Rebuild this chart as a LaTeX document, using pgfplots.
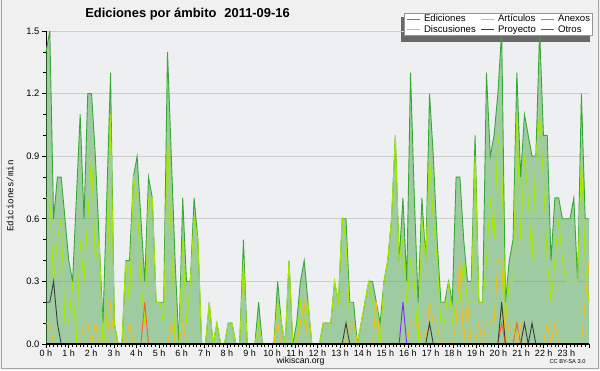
\documentclass[border=0pt]{standalone}
\usepackage{fontspec}
\setmainfont{Liberation Sans}
\newfontfamily\monofont{Liberation Mono}
\usepackage{pgfplots}
\pgfplotsset{compat=1.18}
\usepackage{pgfplotstable}

\definecolor{outerbg}{RGB}{240,240,240}
\definecolor{plotbg}{RGB}{237,239,241}
\definecolor{framegray}{RGB}{165,165,165}
\definecolor{gridc}{RGB}{205,205,205}
\definecolor{edfill}{RGB}{80,170,80}
\definecolor{edline}{RGB}{55,168,55}
\definecolor{artc}{RGB}{165,232,0}
\definecolor{disc}{RGB}{245,190,30}
\definecolor{anxc}{RGB}{255,95,30}
\definecolor{proc}{RGB}{60,60,60}
\definecolor{otrc}{RGB}{125,45,240}
\definecolor{legborder}{RGB}{150,150,150}
\definecolor{shadowc}{RGB}{105,105,105}

\pgfplotstableread{
i ed art dis anx pro otr
0 1.4 0.7 0.1 0 0.2 0
1 1.5 0.7 0.1 0 0.2 0
2 0.6 0.3 0 0 0.3 0
3 0.8 0.5 0 0 0.1 0
4 0.8 0.6 0 0 0 0
5 0.6 0.1 0 0 0 0
6 0.4 0.1 0 0 0 0
7 0.3 0.3 0 0 0 0
8 0.7 0.0 0 0 0 0
9 1.1 0.5 0 0 0 0
10 0.6 0.3 0.1 0 0 0
11 1.2 0.6 0.1 0 0 0
12 1.2 0.9 0 0 0 0
13 0.9 0.4 0.1 0 0 0
14 0.5 0.5 0 0 0 0
15 0.1 0.0 0 0 0 0
16 0.7 0.1 0 0 0 0
17 1.3 1.1 0.2 0 0 0
18 0.1 0.1 0 0 0 0
19 0 0 0 0 0 0
20 0 0 0 0 0 0
21 0.4 0.4 0 0 0 0
22 0.4 0.2 0.1 0 0 0
23 0.8 0.8 0 0 0 0
24 0.9 0.7 0 0 0 0
25 0.6 0.3 0 0 0 0
26 0.3 0.1 0 0.2 0 0
27 0.8 0.7 0 0 0 0
28 0.7 0.7 0 0 0 0
29 0.2 0.2 0 0 0 0
30 0.2 0.2 0 0 0 0
31 0.2 0.1 0 0 0 0
32 1.4 1.0 0 0 0 0
33 0.9 0.5 0.1 0 0 0
34 0.4 0.0 0 0 0 0
35 0 0 0 0 0 0
36 0.7 0.5 0.1 0 0 0
37 0.3 0.1 0 0 0 0
38 0.3 0.3 0 0 0 0
39 0.7 0.6 0 0 0 0
40 0.5 0.5 0 0 0 0
41 0 0 0 0 0 0
42 0 0 0 0 0 0
43 0.2 0.2 0 0 0 0
44 0 0 0 0 0 0
45 0.1 0.1 0 0 0 0
46 0 0 0 0 0 0
47 0 0 0 0 0 0
48 0.1 0.1 0 0 0 0
49 0.1 0.1 0 0 0 0
50 0 0 0 0 0 0
51 0 0 0 0 0 0
52 0.5 0.4 0 0 0 0
53 0 0 0 0 0 0
54 0 0 0 0 0 0
55 0 0 0 0 0 0
56 0.2 0.1 0 0 0 0
57 0 0 0 0 0 0
58 0 0 0 0 0 0
59 0 0 0 0 0 0
60 0 0 0 0 0 0
61 0.3 0.2 0.1 0 0 0
62 0.1 0.1 0 0 0 0
63 0 0 0 0 0 0
64 0.4 0.4 0 0 0 0
65 0 0 0 0 0 0
66 0.1 0.0 0 0 0 0
67 0.3 0.2 0.1 0 0 0
68 0.4 0.1 0.2 0 0 0
69 0.2 0.2 0 0 0 0
70 0 0 0 0 0 0
71 0 0 0 0 0 0
72 0 0 0 0 0 0
73 0.1 0.1 0 0 0 0
74 0.1 0.1 0 0 0 0
75 0.1 0.1 0 0 0 0
76 0.3 0.3 0 0 0 0
77 0.2 0.2 0 0 0 0
78 0.6 0.6 0 0 0 0
79 0.6 0.5 0 0 0.1 0
80 0.2 0.1 0.1 0 0 0
81 0.2 0.1 0.1 0 0 0
82 0 0 0 0 0 0
83 0.1 0.1 0 0 0 0
84 0.2 0.2 0 0 0 0
85 0.3 0.3 0 0 0 0
86 0.3 0.2 0 0 0 0
87 0.2 0.1 0.2 0 0 0
88 0.1 0.0 0 0 0 0
89 0.3 0.3 0 0 0 0
90 0.4 0.4 0 0 0 0
91 0.6 0.6 0 0 0 0
92 1.0 1.0 0 0 0 0
93 0.4 0.4 0 0 0 0
94 0.7 0.5 0 0 0 0.2
95 0.3 0.2 0 0 0 0
96 1.3 0.4 0.1 0 0 0
97 0.7 0.3 0.1 0 0 0
98 0.2 0.0 0.1 0 0 0
99 0.7 0.6 0 0 0 0
100 0.4 0.4 0 0 0 0
101 1.2 0.9 0.2 0 0.1 0
102 0.9 0.6 0.1 0 0 0
103 0.5 0.4 0.1 0 0 0
104 0.2 0.1 0 0 0 0
105 0.2 0.1 0 0 0 0
106 0.3 0.3 0 0 0 0
107 0.2 0.1 0 0 0 0
108 0.8 0.2 0.1 0 0 0
109 0.8 0.2 0.4 0 0 0
110 0.5 0.4 0 0 0 0
111 0.3 0.2 0.2 0 0 0
112 0.3 0.2 0 0 0 0
113 1.0 0.9 0 0 0 0
114 0.2 0.2 0.1 0 0 0
115 0.2 0.2 0 0 0 0
116 1.3 0.4 0.1 0 0 0
117 0.9 0.7 0.1 0 0 0
118 1.0 0.5 0.1 0 0 0
119 1.2 1.0 0.4 0 0 0
120 1.5 0.9 0.4 0.1 0.2 0
121 0.2 0.1 0 0 0 0
122 0.4 0.3 0.1 0 0 0
123 0.5 0.3 0.1 0 0 0
124 1.3 1.1 0 0.1 0 0
125 0.8 0.5 0.1 0 0 0
126 1.1 0.9 0 0 0.1 0
127 1.0 0.7 0 0 0 0
128 0.9 0.4 0 0 0.1 0
129 0.9 0.9 0 0 0 0
130 1.5 1.1 0 0 0 0
131 1.0 0.8 0 0 0 0
132 1.0 0.4 0.1 0 0 0
133 0.4 0.2 0 0 0 0
134 0.7 0.4 0.1 0 0 0
135 0.7 0.6 0 0 0 0
136 0.6 0.4 0 0 0 0
137 0.6 0.3 0 0 0 0
138 0.6 0.3 0 0 0 0
139 0.7 0.3 0 0 0 0
140 0.3 0.3 0 0 0 0
141 1.2 0.9 0 0 0 0
142 0.6 0.4 0.2 0 0 0
143 0.6 0.2 0.4 0 0 0
}\data

\begin{document}
\begin{tikzpicture}[x=1pt,y=1pt]
\fill[outerbg] (0,0) rectangle (600,370);
\useasboundingbox (0,0) rectangle (600,370);
\draw[framegray, line width=1pt] (1.5,1.5) rectangle (598.5,370.5);
\fill[plotbg] (46,26) rectangle (589,339);
% legend drop shadow
\fill[shadowc] (401,328) rectangle (590,353);
\begin{axis}[
  at={(46pt,26pt)}, anchor=south west,
  scale only axis, width=543pt, height=313pt,
  xmin=0, xmax=24, ymin=0, ymax=1.5,
  clip=false,
  axis x line*=bottom, axis y line*=left,
  axis line style={-, black, line width=0.8pt},
  xtick={0,...,24},
  xticklabels={0 h,1 h,2 h,3 h,4 h,5 h,6 h,7 h,8 h,9 h,10 h,11 h,12 h,13 h,14 h,15 h,16 h,17 h,18 h,19 h,20 h,21 h,22 h,23 h,{}},
  minor x tick num=5,
  ytick={0,0.3,0.6,0.9,1.2,1.5},
  minor ytick={0.1,0.2,0.4,0.5,0.7,0.8,1.0,1.1,1.3,1.4},
  ymajorgrids, grid style={gridc, line width=0.8pt},
  tick align=outside, major tick length=4pt, minor tick length=3pt,
  tick style={black, line width=0.7pt},
  /pgf/number format/assume math mode=true,
  yticklabel style={/pgf/number format/fixed,/pgf/number format/fixed zerofill,/pgf/number format/precision=1, font=\fontsize{9.4}{10}\selectfont, xshift=1pt},
  xticklabel style={font=\fontsize{9}{10}\selectfont, yshift=1.5pt},
  no markers,
  legend columns=3,
  legend cell align=left,
  legend image code/.code={\draw[#1, line width=1pt] (0pt,0pt) -- (13pt,0pt);},
  legend style={at={(1.0074,1.0575)}, anchor=north east,
    draw=legborder, fill=white, line width=0.6pt,
    font=\fontsize{9.6}{9.6}\selectfont,
    inner xsep=2pt, inner ysep=1pt,
    nodes={inner sep=0.6pt, text height=7pt, text depth=2pt},
    /tikz/every odd column/.append style={column sep=3pt},
    /tikz/every even column/.append style={column sep=4pt}},
]
\addplot[draw=none, fill=edfill, fill opacity=0.5, forget plot] table[x expr=\thisrow{i}*24/143, y=ed]{\data} \closedcycle;
\addplot[edline, line width=0.9pt] table[x expr=\thisrow{i}*24/143, y=ed]{\data};
\addlegendentry{Ediciones}
\addplot[artc, line width=0.9pt] table[x expr=\thisrow{i}*24/143, y=art]{\data};
\addlegendentry{Artículos}
\addplot[anxc, line width=0.9pt] table[x expr=\thisrow{i}*24/143, y=anx]{\data};
\addlegendentry{Anexos}
\addplot[disc, line width=0.9pt] table[x expr=\thisrow{i}*24/143, y=dis]{\data};
\addlegendentry{Discusiones}
\addplot[proc, line width=0.9pt] table[x expr=\thisrow{i}*24/143, y=pro]{\data};
\addlegendentry{Proyecto}
\addplot[otrc, line width=0.9pt] table[x expr=\thisrow{i}*24/143, y=otr]{\data};
\addlegendentry{Otros}
\draw[black, line width=1.4pt] (axis cs:0,0) -- (axis cs:24,0);
\end{axis}
\node[font=\bfseries\fontsize{12.9}{14}\selectfont] at (187.5,356) {Ediciones por ámbito\hspace{8pt}2011-09-16};
\node[rotate=90, font=\monofont\fontsize{9.2}{10}\selectfont] at (10,174) {Ediciones/min};
\node[font=\fontsize{8.7}{10}\selectfont] at (300.5,8.3) {wikiscan.org};
\node[font=\fontsize{5.7}{7}\selectfont, anchor=east] at (589,8) {CC BY-SA 3.0};
\end{tikzpicture}
\end{document}
